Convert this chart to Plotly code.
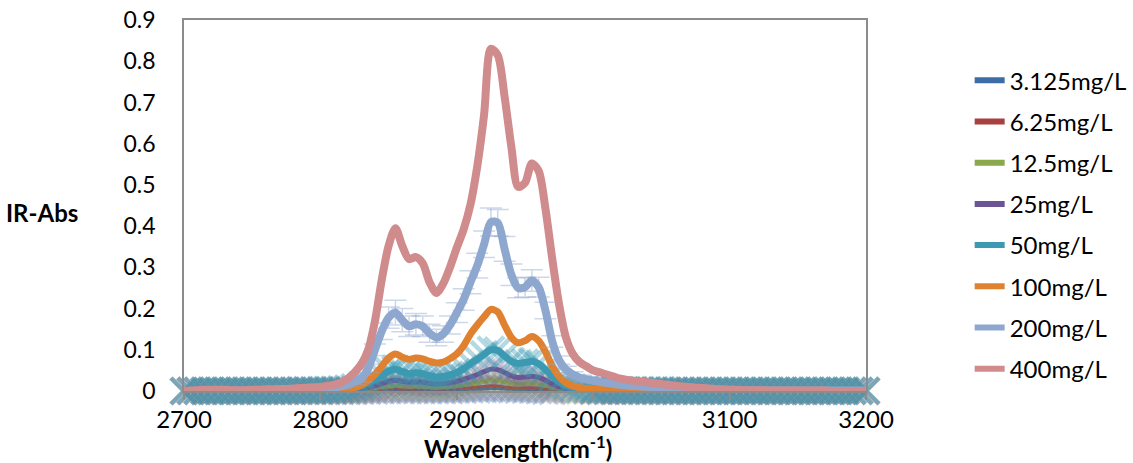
import plotly.graph_objects as go

# wavelength grid (cm-1), every 5 cm-1 from 2700 to 3200
wavenumber = [2700, 2705, 2710, 2715, 2720, 2725, 2730, 2735, 2740, 2745, 2750, 2755,
              2760, 2765, 2770, 2775, 2780, 2785, 2790, 2795, 2800, 2805, 2810,
              2815, 2820, 2825, 2830, 2835, 2840, 2845, 2850, 2855, 2860, 2865, 2870, 2875,
              2880, 2885, 2890, 2895, 2900, 2905, 2910, 2915, 2920, 2925, 2930, 2935, 2940,
              2945, 2950, 2955, 2960, 2965, 2970, 2975, 2980, 2985, 2990, 2995, 3000,
              3005, 3010, 3015, 3020, 3025, 3030, 3035, 3040, 3045, 3050,
              3055, 3060, 3065, 3070, 3075, 3080, 3085, 3090, 3095, 3100,
              3105, 3110, 3115, 3120, 3125, 3130, 3135, 3140, 3145, 3150,
              3155, 3160, 3165, 3170, 3175, 3180, 3185, 3190, 3195, 3200]

series_names = ["3.125mg/L", "6.25mg/L", "12.5mg/L", "25mg/L", "50mg/L", "100mg/L", "200mg/L", "400mg/L"]

abs_3_125 = [0.000, 0.000, 0.000, 0.000, 0.000, 0.000, 0.000, 0.000, 0.000, 0.000, 0.000, 0.000,
             0.000, 0.000, 0.000, 0.000, 0.000, 0.000, 0.000, 0.000, 0.000, 0.000, 0.000,
             0.000, 0.000, 0.000, 0.001, 0.001, 0.001, 0.002, 0.002, 0.003, 0.002, 0.002, 0.002, 0.002,
             0.002, 0.002, 0.002, 0.002, 0.003, 0.003, 0.004, 0.004, 0.005, 0.006, 0.006, 0.005, 0.004,
             0.003, 0.003, 0.003, 0.002, 0.001, 0.000, -0.002, -0.003, -0.003, -0.002, -0.001, 0.000,
             0.000, 0.000, 0.000, 0.000, 0.000, 0.000, 0.000, 0.000, 0.000, 0.000,
             0.000, 0.000, 0.000, 0.000, 0.000, 0.000, 0.000, 0.000, 0.000, 0.000,
             0.000, 0.000, 0.000, 0.000, 0.000, 0.000, 0.000, 0.000, 0.000, 0.000,
             0.000, 0.000, 0.000, 0.000, 0.000, 0.000, 0.000, 0.000, 0.000, 0.000]
abs_6_25 = [0.000, 0.000, 0.000, 0.000, 0.000, 0.000, 0.000, 0.000, 0.000, 0.000, 0.000, 0.000,
            0.000, 0.000, 0.000, 0.000, 0.000, 0.000, 0.000, 0.000, 0.000, 0.000, 0.000,
            0.000, 0.000, 0.001, 0.001, 0.002, 0.003, 0.004, 0.005, 0.006, 0.005, 0.005, 0.005, 0.005,
            0.006, 0.005, 0.005, 0.005, 0.006, 0.007, 0.008, 0.010, 0.011, 0.013, 0.012, 0.010, 0.008,
            0.007, 0.008, 0.008, 0.007, 0.005, 0.003, 0.002, 0.001, 0.001, 0.000, 0.000, 0.000,
            0.000, 0.000, 0.000, 0.000, 0.000, 0.000, 0.000, 0.000, 0.000, 0.000,
            0.000, 0.000, 0.000, 0.000, 0.000, 0.000, 0.000, 0.000, 0.000, 0.000,
            0.000, 0.000, 0.000, 0.000, 0.000, 0.000, 0.000, 0.000, 0.000, 0.000,
            0.000, 0.000, 0.000, 0.000, 0.000, 0.000, 0.000, 0.000, 0.000, 0.000]
abs_12_5 = [0.000, 0.000, 0.000, 0.000, 0.000, 0.000, 0.000, 0.000, 0.000, 0.000, 0.000, 0.000,
            0.000, 0.000, 0.000, 0.000, 0.000, 0.000, 0.000, 0.000, 0.000, 0.000, 0.001,
            0.001, 0.001, 0.002, 0.003, 0.004, 0.006, 0.009, 0.011, 0.013, 0.011, 0.010, 0.011, 0.010,
            0.009, 0.008, 0.009, 0.010, 0.012, 0.014, 0.017, 0.020, 0.023, 0.026, 0.025, 0.022, 0.018,
            0.016, 0.017, 0.018, 0.016, 0.013, 0.008, 0.005, 0.003, 0.002, 0.001, 0.001, 0.001,
            0.000, 0.000, 0.000, 0.000, 0.000, 0.000, 0.000, 0.000, 0.000, 0.000,
            0.000, 0.000, 0.000, 0.000, 0.000, 0.000, 0.000, 0.000, 0.000, 0.000,
            0.000, 0.000, 0.000, 0.000, 0.000, 0.000, 0.000, 0.000, 0.000, 0.000,
            0.000, 0.000, 0.000, 0.000, 0.000, 0.000, 0.000, 0.000, 0.000, 0.000]
abs_25 = [0.000, 0.000, 0.000, 0.000, 0.000, 0.000, 0.000, 0.000, 0.000, 0.000, 0.000, 0.000,
          0.000, 0.000, 0.000, 0.000, 0.000, 0.001, 0.001, 0.001, 0.001, 0.001, 0.001,
          0.002, 0.003, 0.004, 0.006, 0.009, 0.013, 0.018, 0.023, 0.026, 0.023, 0.021, 0.022, 0.021,
          0.019, 0.017, 0.018, 0.020, 0.023, 0.028, 0.034, 0.040, 0.047, 0.053, 0.052, 0.045, 0.037,
          0.033, 0.034, 0.036, 0.033, 0.026, 0.017, 0.010, 0.006, 0.004, 0.003, 0.002, 0.002,
          0.001, 0.001, 0.001, 0.001, 0.001, 0.001, 0.001, 0.001, 0.000, 0.000,
          0.000, 0.000, 0.000, 0.000, 0.000, 0.000, 0.000, 0.000, 0.000, 0.000,
          0.000, 0.000, 0.000, 0.000, 0.000, 0.000, 0.000, 0.000, 0.000, 0.000,
          0.000, 0.000, 0.000, 0.000, 0.000, 0.000, 0.000, 0.000, 0.000, 0.000]
abs_50 = [0.000, 0.001, 0.001, 0.001, 0.001, 0.001, 0.001, 0.001, 0.001, 0.001, 0.001, 0.001,
          0.001, 0.001, 0.001, 0.001, 0.001, 0.002, 0.002, 0.002, 0.002, 0.003, 0.003,
          0.004, 0.006, 0.009, 0.013, 0.020, 0.028, 0.038, 0.048, 0.053, 0.047, 0.042, 0.044, 0.042,
          0.037, 0.034, 0.035, 0.039, 0.045, 0.054, 0.066, 0.077, 0.089, 0.100, 0.098, 0.085, 0.072,
          0.067, 0.069, 0.072, 0.066, 0.052, 0.036, 0.022, 0.013, 0.008, 0.005, 0.004, 0.003,
          0.003, 0.003, 0.002, 0.002, 0.002, 0.002, 0.002, 0.002, 0.002, 0.002,
          0.001, 0.001, 0.001, 0.001, 0.001, 0.001, 0.001, 0.001, 0.001, 0.001,
          0.001, 0.001, 0.001, 0.001, 0.001, 0.001, 0.001, 0.001, 0.001, 0.001,
          0.001, 0.001, 0.001, 0.001, 0.001, 0.001, 0.001, 0.001, 0.001, 0.001]
abs_100 = [0.000, 0.000, 0.000, 0.000, 0.000, 0.000, 0.000, 0.000, 0.000, 0.000, 0.000, 0.000,
           0.000, 0.000, 0.000, 0.000, 0.001, 0.001, 0.001, 0.001, 0.001, 0.001, 0.002,
           0.003, 0.005, 0.008, 0.014, 0.025, 0.040, 0.060, 0.080, 0.090, 0.082, 0.077, 0.080, 0.078,
           0.072, 0.068, 0.070, 0.078, 0.090, 0.110, 0.138, 0.160, 0.180, 0.198, 0.192, 0.160, 0.130,
           0.117, 0.122, 0.132, 0.122, 0.095, 0.060, 0.035, 0.020, 0.012, 0.008, 0.006, 0.005,
           0.004, 0.004, 0.004, 0.004, 0.003, 0.003, 0.003, 0.003, 0.003, 0.003,
           0.002, 0.002, 0.002, 0.002, 0.002, 0.002, 0.002, 0.002, 0.002, 0.002,
           0.001, 0.001, 0.001, 0.001, 0.001, 0.001, 0.001, 0.001, 0.001, 0.001,
           0.001, 0.001, 0.001, 0.001, 0.001, 0.001, 0.001, 0.001, 0.001, 0.001]
abs_200 = [0.000, 0.000, 0.001, 0.001, 0.001, 0.001, 0.001, 0.001, 0.001, 0.001, 0.001, 0.001,
           0.002, 0.002, 0.002, 0.002, 0.003, 0.003, 0.004, 0.004, 0.005, 0.006, 0.008,
           0.011, 0.016, 0.022, 0.030, 0.055, 0.100, 0.145, 0.178, 0.190, 0.172, 0.157, 0.162, 0.157,
           0.140, 0.130, 0.138, 0.160, 0.190, 0.222, 0.264, 0.304, 0.356, 0.410, 0.408, 0.345, 0.282,
           0.250, 0.252, 0.268, 0.252, 0.195, 0.120, 0.075, 0.052, 0.040, 0.033, 0.028, 0.025,
           0.022, 0.020, 0.017, 0.015, 0.013, 0.012, 0.011, 0.010, 0.009, 0.008,
           0.007, 0.006, 0.006, 0.005, 0.004, 0.004, 0.003, 0.003, 0.003, 0.003,
           0.002, 0.002, 0.002, 0.002, 0.002, 0.001, 0.001, 0.001, 0.001, 0.001,
           0.001, 0.001, 0.001, 0.001, 0.001, 0.001, 0.001, 0.001, 0.001, 0.001]
err_200 = [0.004, 0.004, 0.004, 0.004, 0.004, 0.004, 0.004, 0.004, 0.004, 0.004, 0.004, 0.004,
           0.004, 0.004, 0.004, 0.004, 0.004, 0.004, 0.004, 0.004, 0.004, 0.004, 0.004,
           0.005, 0.006, 0.007, 0.008, 0.010, 0.014, 0.020, 0.026, 0.030, 0.028, 0.025, 0.026, 0.025,
           0.022, 0.020, 0.020, 0.022, 0.024, 0.026, 0.028, 0.030, 0.032, 0.034, 0.032, 0.030, 0.026,
           0.024, 0.024, 0.026, 0.024, 0.020, 0.014, 0.010, 0.008, 0.007, 0.006, 0.006, 0.005,
           0.004, 0.004, 0.004, 0.004, 0.004, 0.004, 0.004, 0.004, 0.004, 0.004,
           0.004, 0.004, 0.004, 0.004, 0.004, 0.004, 0.004, 0.004, 0.004, 0.004,
           0.004, 0.004, 0.004, 0.004, 0.004, 0.004, 0.004, 0.004, 0.004, 0.004,
           0.004, 0.004, 0.004, 0.004, 0.004, 0.004, 0.004, 0.004, 0.004, 0.004]
abs_400 = [0.000, 0.001, 0.002, 0.003, 0.003, 0.003, 0.003, 0.002, 0.002, 0.002, 0.003, 0.003,
           0.004, 0.004, 0.005, 0.005, 0.006, 0.007, 0.008, 0.009, 0.010, 0.012, 0.015,
           0.020, 0.030, 0.045, 0.065, 0.100, 0.170, 0.270, 0.352, 0.395, 0.352, 0.320, 0.325, 0.310,
           0.264, 0.238, 0.260, 0.300, 0.348, 0.392, 0.452, 0.545, 0.670, 0.830, 0.815, 0.715, 0.592,
           0.495, 0.505, 0.552, 0.534, 0.442, 0.320, 0.210, 0.130, 0.090, 0.070, 0.060, 0.050,
           0.045, 0.040, 0.035, 0.030, 0.027, 0.025, 0.023, 0.021, 0.019, 0.017,
           0.015, 0.013, 0.011, 0.010, 0.008, 0.007, 0.006, 0.005, 0.004, 0.003,
           0.003, 0.002, 0.002, 0.002, 0.002, 0.001, 0.001, 0.001, 0.001, 0.001,
           0.001, 0.001, 0.001, 0.001, 0.000, 0.000, 0.000, 0.000, 0.000, 0.000]

values = [abs_3_125, abs_6_25, abs_12_5, abs_25, abs_50, abs_100, abs_200, abs_400]
colors = ["#3D6DA7", "#A7403E", "#8AA84C", "#6B5592", "#3B9AB2", "#E0812F", "#8EA7CF", "#D08B8C"]
marker_rgba = ["rgba(61,109,167,0.32)", "rgba(167,64,62,0.08)", "rgba(138,168,76,0.14)",
               "rgba(107,85,146,0.18)", "rgba(59,154,178,0.38)", None, None, None]
line_widths = [3, 3, 4, 5, 7, 7, 8, 8]

fig = go.Figure()
for i, (name, y) in enumerate(zip(series_names, values)):
    if marker_rgba[i] is not None:
        fig.add_trace(go.Scatter(
            x=wavenumber, y=y, mode="markers", showlegend=False, hoverinfo="skip",
            cliponaxis=False,
            marker=dict(symbol="x-thin", size=26, color=marker_rgba[i],
                        line=dict(width=4.5, color=marker_rgba[i])),
        ))
    err = None
    if name == "200mg/L":
        err = dict(type="data", array=err_200, symmetric=True,
                   color="rgba(142,167,207,0.45)", thickness=1.5, width=11)
    fig.add_trace(go.Scatter(
        x=wavenumber, y=y, mode="lines", name=name, showlegend=False,
        line=dict(color=colors[i], width=line_widths[i], shape="spline", smoothing=0.8),
        error_y=err, cliponaxis=True,
    ))

# legend entries
for i, name in enumerate(series_names):
    fig.add_trace(go.Scatter(
        x=[None], y=[None], mode="lines", name=name, legendgroup=name,
        line=dict(color=colors[i], width=6),
    ))

fig.update_layout(
    width=1133, height=463,
    margin=dict(l=184, r=267, t=20, b=72, autoexpand=False),
    paper_bgcolor="white", plot_bgcolor="white",
    font=dict(family="Lato", size=23, color="#000000"),
    showlegend=True,
    legend=dict(x=1.152, y=0.897, xanchor="left", yanchor="top",
                font=dict(family="Lato", size=24, color="#000000"),
                traceorder="grouped", tracegroupgap=7,
                bgcolor="rgba(0,0,0,0)"),
    xaxis=dict(range=[2700, 3200], tickvals=[2700, 2800, 2900, 3000, 3100, 3200],
               showline=True, linecolor="#8C8C8C", linewidth=1.5, mirror=True,
               ticks="outside", ticklen=7, tickcolor="#8C8C8C", tickwidth=1.5,
               showgrid=False, zeroline=False, ticklabelstandoff=-1, automargin=False,
               tickfont=dict(family="Lato", size=24)),
    yaxis=dict(range=[0, 0.9], dtick=0.1, tick0=0,
               showline=True, linecolor="#8C8C8C", linewidth=1.5, mirror=True,
               ticks="", showgrid=False, zeroline=False, ticklabelstandoff=22, automargin=False),
    annotations=[
        dict(text="<b>Wavelength(cm<sup>-1</sup>)</b>", x=0.49, y=-0.152, xref="paper", yref="paper",
             xanchor="center", yanchor="middle", showarrow=False,
             font=dict(family="Lato", size=24, color="#000000")),
        dict(text="<b>IR-Abs</b>", x=-0.208, y=0.48, xref="paper", yref="paper",
             xanchor="center", yanchor="middle", showarrow=False,
             font=dict(family="Lato", size=24, color="#000000")),
    ],
)

fig.write_html("out.html")
